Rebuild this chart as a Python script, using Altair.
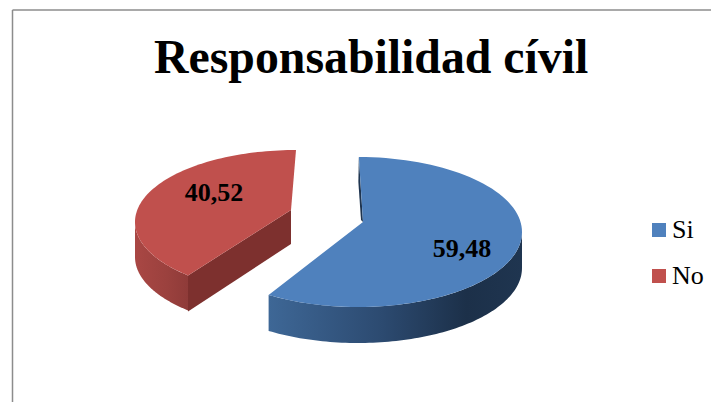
import math
import altair as alt
import pandas as pd

categories = ["Si", "No"]
values = [59.48, 40.52]
value_labels = ["59,48", "40,52"]
title_text = "Responsabilidad cívil"

W, H = 703, 394
OX, OY = 8, 8

# pie geometry, in page pixels
BLUE = dict(cx=358, cy=232, a=164, b=75, apex=(363, 222))
RED = dict(cx=296, cy=222, a=161, b=72, apex=(291, 210))
DEPTH = 36

blue_start = 0.3
blue_end = blue_start + values[0] * 3.6 - 1.4
red_end = 360.0
red_start = red_end - values[1] * 3.6 + 8.0


def ell(g, deg, dy=0):
    t = math.radians(deg)
    return (g["cx"] + g["a"] * math.sin(t), g["cy"] - g["b"] * math.cos(t) + dy)


def arc(g, d0, d1, dy=0, n=90):
    return [ell(g, d0 + (d1 - d0) * i / n, dy) for i in range(n + 1)]


def frame(points, name=None):
    return pd.DataFrame(
        [{"x": p[0] - OX, "y": p[1] - OY, "o": i, "slice": name} for i, p in enumerate(points)]
    )


xs = alt.X("x:Q", scale=alt.Scale(domain=[0, W], nice=False, zero=False), axis=None)
ys = alt.Y("y:Q", scale=alt.Scale(domain=[H, 0], nice=False, zero=False), axis=None)
order = alt.Order("o:Q")


def poly(points, fill):
    return (
        alt.Chart(frame(points))
        .mark_line(fill=fill, stroke=None, strokeWidth=0, clip=False)
        .encode(x=xs, y=ys, order=order)
    )


def grad(stops, x1=0, x2=1):
    return alt.Gradient(
        gradient="linear", x1=x1, x2=x2, y1=0, y2=0,
        stops=[alt.GradientStop(offset=o, color=c) for o, c in stops],
    )


# outer walls
blue_wall_top = arc(BLUE, blue_end, 90)
blue_wall = blue_wall_top + [(x, y + DEPTH) for x, y in reversed(blue_wall_top)]
red_wall_top = arc(RED, red_start, 270)
red_wall = red_wall_top + [(x, y + DEPTH - 1) for x, y in reversed(red_wall_top)]
red_c = ell(RED, red_start)
red_cut = [red_c, RED["apex"], (RED["apex"][0], RED["apex"][1] + DEPTH - 2), (red_c[0], red_c[1] + DEPTH)]
blue_s = ell(BLUE, blue_start)
blue_cut = [blue_s, BLUE["apex"], (BLUE["apex"][0] - 2, BLUE["apex"][1] - 2), (blue_s[0] - 0.5, blue_s[1] + 25)]

walls = [
    poly(blue_wall, grad([(0, "#3e6796"), (0.45, "#2c4a70"), (0.78, "#1c3049"), (1, "#1f3550")])),
    poly(red_wall, grad([(0, "#a94744"), (0.6, "#9b413e"), (1, "#8f3b39")])),
    poly(red_cut, "#7d302e"),
    poly(blue_cut, "#1f3550"),
]

# top faces: one row set per category
blue_top = [BLUE["apex"]] + arc(BLUE, blue_start, blue_end)
red_top = [RED["apex"]] + arc(RED, red_start, red_end)
tops = pd.concat([frame(blue_top, categories[0]), frame(red_top, categories[1])])
face = (
    alt.Chart(tops)
    .mark_line(strokeWidth=0, clip=False)
    .encode(
        x=xs,
        y=ys,
        order=order,
        fill=alt.Fill(
            "slice:N",
            scale=alt.Scale(domain=categories, range=["#4f81bd", "#c0504d"]),
            legend=alt.Legend(
                title=None, orient="none", legendX=638, legendY=209,
                symbolType="square", symbolSize=196, symbolStrokeWidth=0,
                labelFont="Liberation Serif", labelFontSize=26, labelColor="#000000",
                rowPadding=20, labelOffset=0,
            ),
        ),
    )
)

# value labels
lab = pd.DataFrame({
    "x": [462 - OX, 214 - OX], "y": [249 - OY, 193 - OY], "t": value_labels,
})
labels = (
    alt.Chart(lab)
    .mark_text(font="Liberation Serif", fontSize=26, fontWeight="bold", color="#000000")
    .encode(x=xs, y=ys, text="t:N")
)

# frame
left = alt.Chart(pd.DataFrame({"x": [4.5], "y": [2], "y2": [H]})).mark_rule(color="#8c8c8c", strokeWidth=1.5).encode(
    x=xs, y=ys, y2="y2:Q")
top = alt.Chart(pd.DataFrame({"x": [4.5], "x2": [W], "y": [2]})).mark_rule(color="#8c8c8c", strokeWidth=1.5).encode(
    x=xs, x2="x2:Q", y=ys)

chart = alt.layer(left, top, *walls, face, labels).properties(
    width=W, height=H, padding=0,
    autosize=alt.AutoSizeParams(type="none"),
    title=alt.TitleParams(
        title_text, font="Liberation Serif", fontSize=47.8, fontWeight="bold", color="#000000",
        anchor="start", dx=146, dy=112.5, offset=0, baseline="alphabetic",
    ),
).configure_view(stroke=None)

chart.save("out.html", embed_options={"renderer": "svg", "actions": False})
